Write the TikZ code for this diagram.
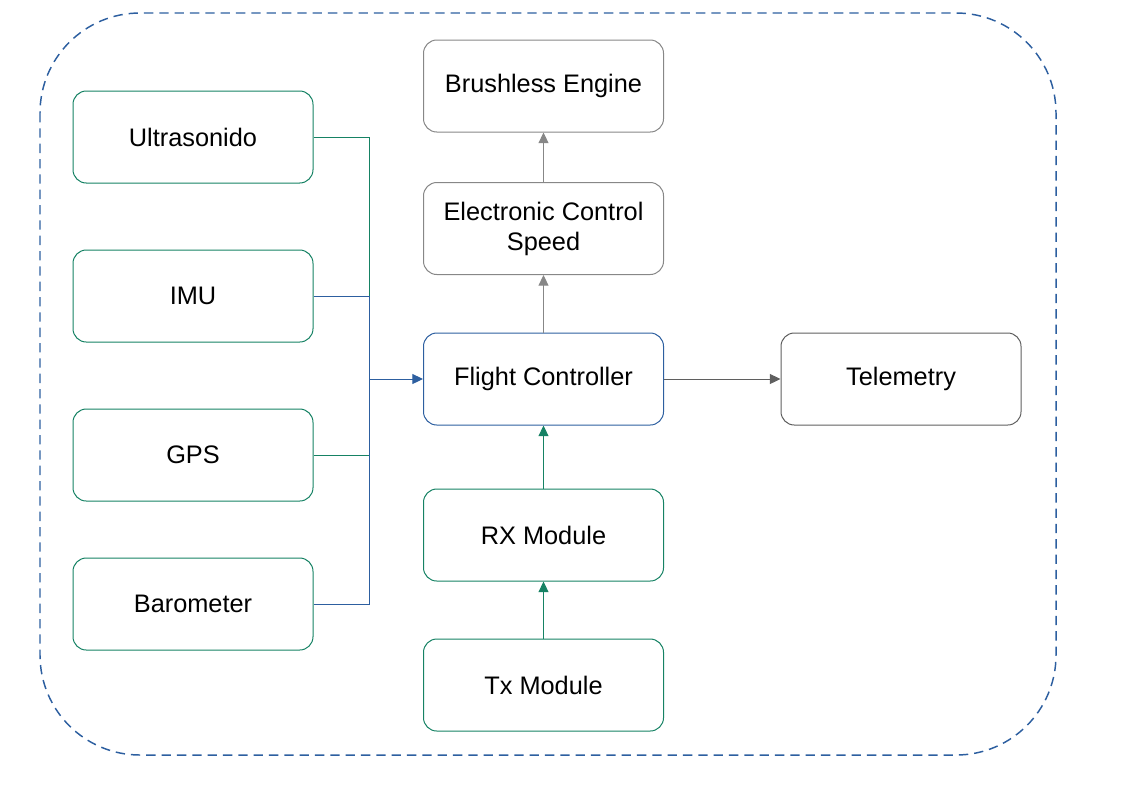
\documentclass[tikz,border=0pt]{standalone}
\usepackage{fontspec}
\setmainfont{Liberation Sans}
\usepackage{tikz}
\usetikzlibrary{arrows.meta,positioning,calc}
\definecolor{sensgreen}{RGB}{22,130,100}
\definecolor{busblue}{RGB}{45,95,160}
\definecolor{boxgray}{RGB}{135,135,135}
\definecolor{darkgray}{RGB}{95,95,95}

\begin{document}
\begin{tikzpicture}[x=0.75pt,y=-0.75pt,
    block/.style={rectangle,draw,rounded corners=10pt,line width=0.75pt,
        minimum width=180pt,minimum height=69pt,align=center,
        font=\fontsize{19}{22.5}\selectfont},
    tip/.style={-{Triangle[length=8pt,width=7.5pt]},line width=0.75pt}]
    \useasboundingbox (0,0) rectangle (1123,794);

    % Outer frame
    \draw[busblue,line width=1.1pt,dash pattern=on 7pt off 4.5pt,rounded corners=75pt]
        (40,13) rectangle (1056,755);

    % Sensors
    \node[block,draw=sensgreen] (ultra) at (193,137) {Ultrasonido};
    \node[block,draw=sensgreen] (imu) at (193,296) {IMU};
    \node[block,draw=sensgreen] (gps) at (193,455) {GPS};
    \node[block,draw=sensgreen] (baro) at (193,604) {Barometer};

    % Main chain
    \node[block,draw=boxgray] (engine) at (543.5,86) {Brushless Engine};
    \node[block,draw=boxgray] (esc) at (543.5,228.5) {Electronic Control\\Speed};
    \node[block,draw=busblue] (fc) at (543.5,379) {Flight Controller};
    \node[block,draw=sensgreen] (rx) at (543.5,535) {RX Module};
    \node[block,draw=sensgreen] (tx) at (543.5,685) {Tx Module};
    \node[block,draw=darkgray] (telem) at (901,379) {Telemetry};

    % Sensor bus
    \coordinate (bus) at (369,379);
    \draw[sensgreen,line width=0.75pt] (ultra.east) -| (bus |- imu.east);
    \draw[busblue,line width=0.75pt] (imu.east) -- (bus |- imu.east) -- (bus |- baro.east) -- (baro.east);
    \draw[sensgreen,line width=0.75pt] (gps.east) -- (bus |- gps.east);
    \draw[tip,busblue] (bus) -- (fc.west);

    % Arrows
    \draw[tip,boxgray] (esc) -- (engine);
    \draw[tip,boxgray] (fc) -- (esc);
    \draw[tip,darkgray] (fc) -- (telem);
    \draw[tip,sensgreen] (rx) -- (fc);
    \draw[tip,sensgreen] (tx) -- (rx);
\end{tikzpicture}
\end{document}
